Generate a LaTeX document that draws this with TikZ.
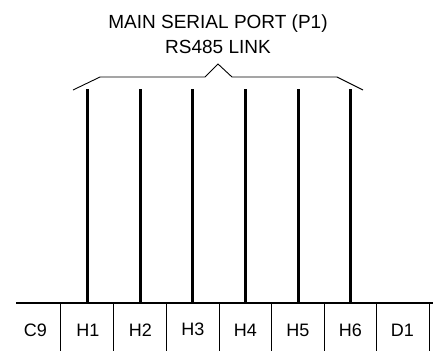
\documentclass[tikz,border=0pt]{standalone}
\usepackage{fontspec}
\setmainfont{Liberation Sans}
\begin{document}
\begin{tikzpicture}[x=1pt,y=-1pt,
  titletext/.style={font=\fontsize{19}{26}\selectfont, inner sep=0pt, anchor=base},
  celltext/.style={font=\fontsize{18}{21}\selectfont, inner sep=0pt, anchor=base},
  wire/.style={line width=3pt},
  bus/.style={line width=2.6pt},
  divider/.style={line width=0.9pt},
  brace/.style={line width=0.9pt, line join=miter}]
\useasboundingbox (0,0) rectangle (439,351);
% title
\node[titletext] (title1) at (218,28.5) {MAIN SERIAL PORT (P1)};
\node[titletext] (title2) at (218,53.5) {RS485 LINK};
% brace
\coordinate (bl) at (73,90);
\coordinate (br) at (363,90);
\draw[brace] (bl) -- (100,77) -- (205,77) -- (218,64) -- (232,77) -- (337,77) -- (br);
% bus
\coordinate (busl) at (16,303);
\coordinate (busr) at (433,303);
\draw[bus] (busl) -- (busr);
% wires
\foreach \i/\x in {1/87,2/140,3/192,4/245,5/298,6/350}{
  \coordinate (t\i) at (\x,89);
  \coordinate (b\i) at (\x,303);
  \draw[wire] (t\i) -- (b\i);
}
% dividers
\foreach \j/\x in {1/60.5,2/113.5,3/166,4/219,5/271.5,6/324,7/376,8/429}{
  \coordinate (dt\j) at (\x,303);
  \coordinate (db\j) at (\x,351);
  \draw[divider] (dt\j) -- (db\j);
}
% cell labels
\node[celltext] (c9) at (35.5,336) {C9};
\node[celltext] (h1) at (88,336) {H1};
\node[celltext] (h2) at (140.5,336) {H2};
\node[celltext] (h3) at (193,335) {H3};
\node[celltext] (h4) at (245.5,336) {H4};
\node[celltext] (h5) at (298,336) {H5};
\node[celltext] (h6) at (350.5,336) {H6};
\node[celltext] (d1) at (402.5,336) {D1};
\end{tikzpicture}
\end{document}
